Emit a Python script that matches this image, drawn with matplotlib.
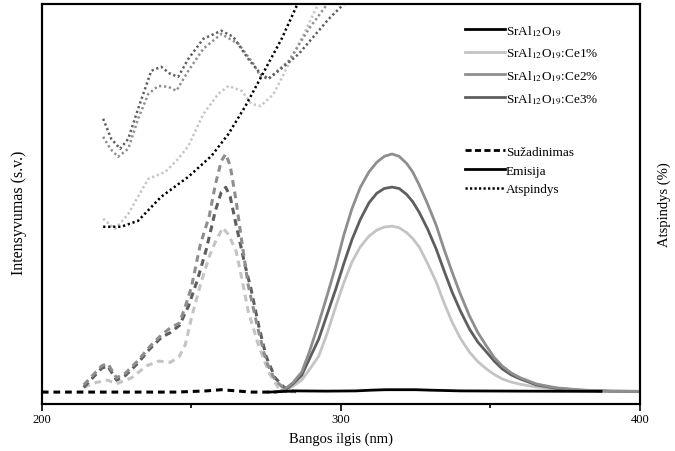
import matplotlib
matplotlib.use("Agg")
import matplotlib.pyplot as plt
from matplotlib.lines import Line2D

plt.rcParams['font.family'] = ['Liberation Serif', 'DejaVu Serif']
plt.rcParams['mathtext.fontset'] = 'stix'

# colours of the four samples
colors = ['#000000', '#c4c4c4', '#8e8e8e', '#5e5e5e']
names = ['SrAl$_{12}$O$_{19}$', 'SrAl$_{12}$O$_{19}$:Ce1%',
         'SrAl$_{12}$O$_{19}$:Ce2%', 'SrAl$_{12}$O$_{19}$:Ce3%']

# excitation spectra (Sužadinimas), arbitrary units
exc_wl_0 = [200, 215, 230, 245, 255, 260, 265, 270, 276]
exc_0 = [0.0, 0.0, 0.0, 0.0, 0.005, 0.01, 0.005, 0.0, 0.0]

exc_wl_1 = [214, 218, 222, 225, 230, 235, 239, 243, 246, 248, 250, 253, 256, 258,
            260.5, 262.5, 265, 267, 269, 272.5, 276, 279, 282]
exc_1 = [0.02, 0.04, 0.05, 0.035, 0.06, 0.11, 0.13, 0.125, 0.15, 0.20, 0.31, 0.45,
         0.57, 0.63, 0.69, 0.66, 0.59, 0.47, 0.34, 0.195, 0.08, 0.02, 0.0]

exc_wl_2 = [214, 217, 220, 222, 225, 228, 232, 236, 240, 243, 246, 248, 250, 253,
            256, 258, 260, 261.5, 263, 265, 267, 269, 272, 275, 278, 281, 284]
exc_2 = [0.03, 0.07, 0.11, 0.12, 0.06, 0.08, 0.13, 0.19, 0.24, 0.27, 0.29, 0.36,
         0.44, 0.62, 0.74, 0.87, 0.97, 1.0, 0.95, 0.80, 0.62, 0.45, 0.28, 0.13,
         0.05, 0.015, 0.0]

exc_wl_3 = [214, 217, 220, 222, 225, 228, 232, 236, 240, 243, 246, 249, 252, 255,
            258, 260, 261.5, 263, 265, 268, 270, 272.5, 275, 278, 281, 285]
exc_3 = [0.02, 0.06, 0.10, 0.11, 0.05, 0.07, 0.12, 0.18, 0.23, 0.25, 0.28, 0.36,
         0.47, 0.60, 0.76, 0.84, 0.86, 0.82, 0.70, 0.53, 0.43, 0.28, 0.15, 0.06,
         0.02, 0.0]

# emission spectra (Emisija), arbitrary units
em_wl_0 = [276, 285, 295, 305, 310, 315, 320, 325, 330, 340, 360, 387]
em_0 = [0.0, 0.005, 0.004, 0.005, 0.008, 0.01, 0.01, 0.01, 0.008, 0.005, 0.004, 0.003]

em_wl = [278, 280, 282, 284, 286.9, 289.5, 292.6, 295.5, 298.3, 301, 303.7, 306.5,
         309.4, 312, 314.5, 317.1, 319.5, 322, 324, 326.2, 329, 331.9, 334.5, 337.2,
         340, 343, 345.8, 348.7, 351.3, 354, 357, 360, 365.4, 372, 380, 390, 400]
em_1 = [0.0, 0.003, 0.01, 0.025, 0.05, 0.095, 0.151, 0.25, 0.36, 0.46, 0.546, 0.61,
        0.655, 0.68, 0.693, 0.697, 0.69, 0.67, 0.645, 0.61, 0.54, 0.462, 0.375,
        0.294, 0.225, 0.168, 0.128, 0.097, 0.074, 0.055, 0.042, 0.033, 0.021, 0.012,
        0.006, 0.003, 0.002]
em_2 = [0.0, 0.005, 0.02, 0.04, 0.084, 0.17, 0.29, 0.41, 0.53, 0.66, 0.77, 0.86,
        0.925, 0.965, 0.99, 1.0, 0.99, 0.96, 0.925, 0.87, 0.79, 0.70, 0.60, 0.504,
        0.41, 0.32, 0.25, 0.193, 0.145, 0.109, 0.08, 0.06, 0.034, 0.018, 0.009,
        0.004, 0.003]
em_3 = [0.0, 0.004, 0.015, 0.035, 0.07, 0.14, 0.223, 0.33, 0.433, 0.54, 0.64, 0.725,
        0.795, 0.835, 0.855, 0.861, 0.855, 0.83, 0.80, 0.755, 0.685, 0.60, 0.51, 0.42,
        0.34, 0.265, 0.21, 0.168, 0.13, 0.097, 0.072, 0.055, 0.03, 0.016, 0.008,
        0.004, 0.003]

# reflectance (Atspindys), %
ref_wl_0 = [220.5, 226.5, 232.2, 239.9, 249, 256.7, 262.4, 268.1, 274.8, 280.2,
            285.2, 289.3]
ref_0 = [44.3, 44.3, 45.8, 51.8, 56.8, 62.0, 67.5, 74.5, 83.8, 91.3, 99.5, 105]

ref_wl_1 = [220.5, 224.5, 228.9, 235.6, 241.3, 245.6, 249, 254, 259, 262.4, 266.8,
            270.1, 273.2, 277.5, 282.6, 287.6, 292, 294.3]
ref_1 = [46.3, 43.8, 47.5, 56.3, 58.0, 61.3, 64.5, 72.5, 77.5, 79.5, 78.3, 75.0,
         74.5, 77.5, 85.0, 92.5, 99.3, 102.5]

ref_wl_2 = [220.5, 222.9, 225.5, 228.9, 232.2, 235.6, 238.9, 242.3, 245, 249, 254,
            260, 265.8, 270.8, 273.2, 275.8, 282.6, 289.3, 295, 299.3]
ref_2 = [66.8, 63.8, 61.8, 63.8, 71.3, 77.5, 79.5, 79.3, 78.3, 83.3, 88.8, 92.5,
         90.0, 85.0, 81.8, 81.3, 85.8, 93.8, 99.5, 103.8]

ref_wl_3 = [220.5, 223.2, 226.2, 228.9, 232.2, 236.6, 239.9, 243, 245.6, 249, 254,
            260, 264, 269, 273.2, 275.8, 279.2, 285.9, 296, 301, 306]
ref_3 = [71.3, 66.3, 63.8, 66.3, 73.8, 83.3, 84.3, 82.5, 81.8, 86.3, 91.3, 93.3,
         91.8, 86.3, 82.5, 81.3, 83.3, 87.5, 96.3, 100, 103.8]

fig = plt.figure(figsize=(6.75, 4.52), dpi=100)
ax = fig.add_axes([0.062, 0.104, 0.886, 0.885])
ax2 = ax.twinx()

exc = [(exc_wl_0, exc_0), (exc_wl_1, exc_1), (exc_wl_2, exc_2), (exc_wl_3, exc_3)]
ems = [(em_wl_0, em_0), (em_wl, em_1), (em_wl, em_2), (em_wl, em_3)]
refl = [(ref_wl_0, ref_0), (ref_wl_1, ref_1), (ref_wl_2, ref_2), (ref_wl_3, ref_3)]

for i in [1, 3, 2, 0]:
    ax.plot(exc[i][0], exc[i][1], color=colors[i], lw=2.2, ls=(0, (2.2, 1.6)))
for i in [1, 3, 2, 0]:
    ax.plot(ems[i][0], ems[i][1], color=colors[i], lw=2.0)
for i in [1, 2, 3, 0]:
    ax2.plot(refl[i][0], refl[i][1], color=colors[i], lw=1.8, ls=(0, (0.9, 1.1)))

ax.set_xlim(200, 400)
ax.set_ylim(-0.05, 1.63)
ax2.set_ylim(0, 100)
ax.set_xticks([200, 300, 400])
ax.set_xticks([250, 350], minor=True)
ax.set_yticks([])
ax2.set_yticks([])
ax.tick_params(axis='x', which='major', length=5, width=1.2, labelsize=9, pad=1.5)
ax.tick_params(axis='x', which='minor', length=3, width=1.2)
for a in (ax, ax2):
    for s in a.spines.values():
        s.set_linewidth(1.5)

ax.set_xlabel('Bangos ilgis (nm)', fontsize=10.5, labelpad=5)
ax.set_ylabel('Intensyvumas (s.v.)', fontsize=11.5)
ax.yaxis.set_label_coords(-0.024, 0.48)
ax2.set_ylabel('Atspindys (%)', fontsize=10.5, labelpad=13)

h1 = [Line2D([], [], color=c, lw=2.0) for c in colors]
leg1 = ax2.legend(h1, names, loc='upper left', bbox_to_anchor=(0.689, 0.946),
                  bbox_transform=fig.transFigure, frameon=False, fontsize=9.5,
                  handlelength=3.0, handletextpad=0.1, labelspacing=0.65,
                  borderpad=0, borderaxespad=0)
ax2.add_artist(leg1)
h2 = [Line2D([], [], color='k', lw=2.0, ls=(0, (2.2, 1.2))),
      Line2D([], [], color='k', lw=2.0),
      Line2D([], [], color='k', lw=1.8, ls=(0, (0.9, 0.9)))]
ax2.legend(h2, ['Sužadinimas', 'Emisija', 'Atspindys'], loc='upper left',
           bbox_to_anchor=(0.689, 0.676), bbox_transform=fig.transFigure,
           frameon=False, fontsize=9.5, handlelength=3.0, handletextpad=0.1,
           labelspacing=0.5, borderpad=0, borderaxespad=0)

fig.savefig('out.png', dpi=100)
